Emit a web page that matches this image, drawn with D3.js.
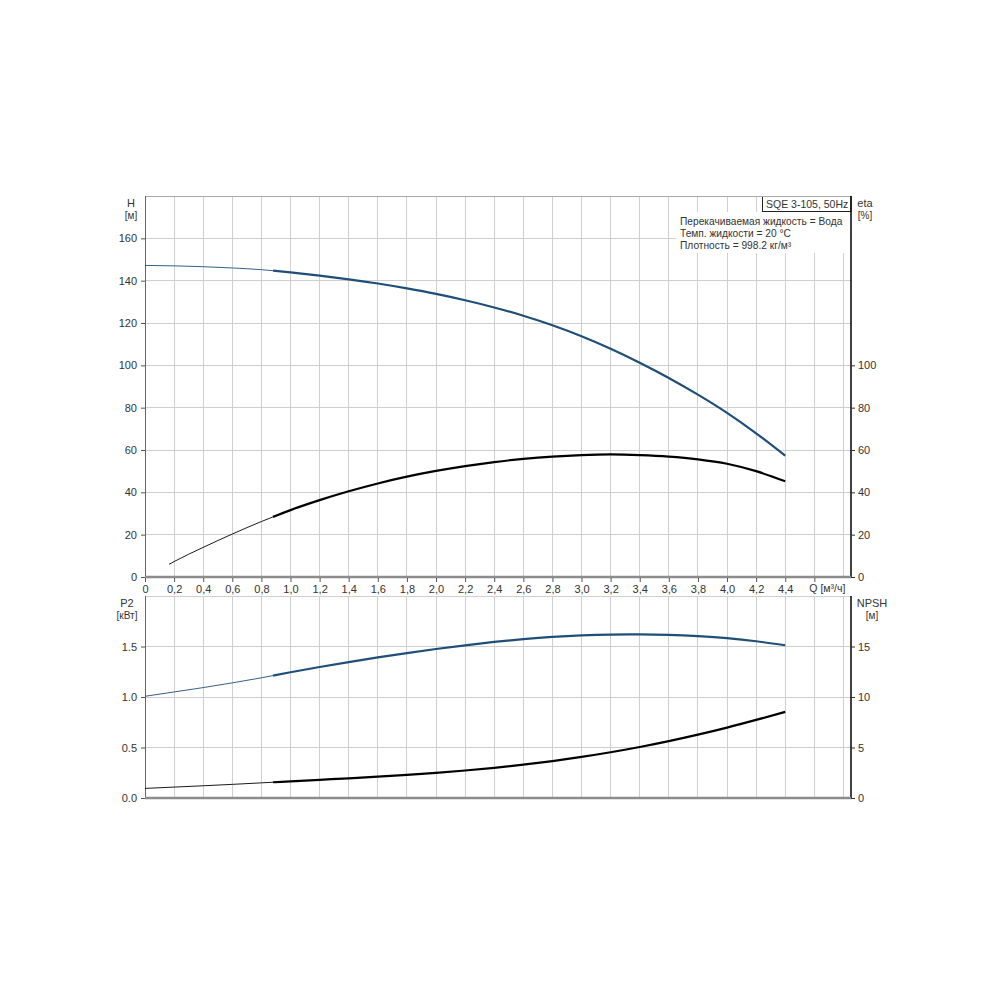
<!DOCTYPE html>
<html>
<head>
<meta charset="utf-8">
<script src="https://cdn.jsdelivr.net/npm/d3@7"></script>
<style>
  html, body { margin: 0; padding: 0; background: #fff; }
  svg { display: block; font-family: "Liberation Sans", Arial, sans-serif; }
</style>
</head>
<body>
<svg id="chart" width="1000" height="1000"></svg>
<script>
// ---- data ----
const qTicks = [0, 0.2, 0.4, 0.6, 0.8, 1.0, 1.2, 1.4, 1.6, 1.8, 2.0, 2.2, 2.4, 2.6, 2.8, 3.0, 3.2, 3.4, 3.6, 3.8, 4.0, 4.2, 4.4];
const qTickLabels = ["0", "0,2", "0,4", "0,6", "0,8", "1,0", "1,2", "1,4", "1,6", "1,8", "2,0", "2,2", "2,4", "2,6", "2,8", "3,0", "3,2", "3,4", "3,6", "3,8", "4,0", "4,2", "4,4"];
const qAxisLabel = "Q [м³/ч]";

const hTicks = [0, 20, 40, 60, 80, 100, 120, 140, 160];
const etaTicks = [0, 20, 40, 60, 80, 100];
const p2Ticks = [0.0, 0.5, 1.0, 1.5];
const p2TickLabels = ["0.0", "0.5", "1.0", "1.5"];
const npshTicks = [0, 5, 10, 15];

// Q points for H, P2, NPSH
const qPoints = [0, 0.2, 0.4, 0.6, 0.8, 0.88, 1.0, 1.2, 1.4, 1.6, 1.8, 2.0, 2.2, 2.4, 2.6, 2.8, 3.0, 3.2, 3.4, 3.6, 3.8, 4.0, 4.2, 4.4];
const hValues = [147.2, 147.0, 146.6, 146.0, 145.2, 144.7, 143.9, 142.4, 140.65, 138.65, 136.35, 133.75, 130.75, 127.35, 123.45, 118.95, 113.75, 107.85, 101.25, 94.05, 86.15, 77.55, 67.9, 57.3];
const p2Values = [1.007, 1.05, 1.093, 1.14, 1.19, 1.212, 1.245, 1.297, 1.346, 1.392, 1.435, 1.475, 1.512, 1.545, 1.573, 1.595, 1.610, 1.618, 1.620, 1.615, 1.602, 1.582, 1.552, 1.512];
const npshValues = [0.95, 1.08, 1.21, 1.35, 1.50, 1.56, 1.65, 1.80, 1.95, 2.11, 2.29, 2.49, 2.72, 2.99, 3.30, 3.66, 4.07, 4.53, 5.05, 5.63, 6.27, 6.97, 7.73, 8.53];

// Q points for efficiency
const qEta = [0.165, 0.2, 0.4, 0.6, 0.8, 0.88, 1.0, 1.2, 1.4, 1.6, 1.8, 2.0, 2.2, 2.4, 2.6, 2.8, 3.0, 3.2, 3.4, 3.6, 3.8, 4.0, 4.2, 4.4];
const etaValues = [6.0, 7.3, 14.0, 20.3, 26.2, 28.4, 31.6, 36.3, 40.5, 44.2, 47.4, 50.1, 52.4, 54.3, 55.8, 56.9, 57.6, 57.9, 57.6, 56.9, 55.6, 53.5, 50.0, 45.2];

const qThick = 0.88; // curves drawn thin below this flow

const titleBox = "SQE 3-105, 50Hz";
const infoLines = ["Перекачиваемая жидкость = Вода", "Темп. жидкости = 20 °C", "Плотность = 998.2 кг/м³"];

// ---- layout ----
const svg = d3.select("#chart");
const X0 = 145, X1 = 851;
const topY0 = 196, topY1 = 577;
const botY0 = 596, botY1 = 798;
const BLUE = "#1f4e79", GRID = "#cfcfcf", TXT = "#333";

const x = d3.scaleLinear().domain([0, 4.852]).range([X0, X1]);
const yH = d3.scaleLinear().domain([0, 180]).range([topY1, topY0]);
const yEta = d3.scaleLinear().domain([0, 180]).range([topY1, topY0]);
const yP2 = d3.scaleLinear().domain([0, 2]).range([botY1, botY0]);
const yNpsh = d3.scaleLinear().domain([0, 20]).range([botY1, botY0]);

const gridX = d3.range(0, 4.85, 0.2).map(v => +v.toFixed(1));

function panelGrid(yScale, yGridVals, y0, y1) {
  const g = svg.append("g");
  g.selectAll("line.v").data(gridX.slice(1)).join("line")
    .attr("x1", d => x(d)).attr("x2", d => x(d))
    .attr("y1", y0).attr("y2", y1)
    .attr("stroke", GRID).attr("stroke-width", 1).attr("shape-rendering", "crispEdges");
  g.selectAll("line.h").data(yGridVals).join("line")
    .attr("x1", X0).attr("x2", X1)
    .attr("y1", d => yScale(d)).attr("y2", d => yScale(d))
    .attr("stroke", GRID).attr("stroke-width", 1).attr("shape-rendering", "crispEdges");
  return g;
}

panelGrid(yH, [20, 40, 60, 80, 100, 120, 140, 160, 180], topY0, topY1);
panelGrid(yP2, [0.5, 1.0, 1.5, 2.0], botY0, botY1);

// info text white background (hides grid behind text)
svg.append("rect").attr("x", 676).attr("y", 212).attr("width", X1 - 676 - 1).attr("height", 41).attr("fill", "#fff");
// title box
svg.append("rect").attr("x", 762.5).attr("y", 196.5).attr("width", X1 - 762.5).attr("height", 15)
  .attr("fill", "#fff").attr("stroke", "#222").attr("stroke-width", 1);
svg.append("text").attr("x", 766).attr("y", 208).attr("font-size", 10.5).attr("fill", TXT).text(titleBox);
svg.selectAll("text.info").data(infoLines).join("text")
  .attr("x", 680).attr("y", (d, i) => 225 + i * 12)
  .attr("font-size", 10.2).attr("fill", TXT).text(d => d);

// ---- axes ----
function leftAxis(yScale, ticks, labels, y0, y1) {
  svg.append("line").attr("x1", X0).attr("x2", X0).attr("y1", y0).attr("y2", y1)
    .attr("stroke", "#666").attr("stroke-width", 1).attr("shape-rendering", "crispEdges");
  const ax = d3.axisLeft(yScale).tickValues(ticks).tickSize(4).tickPadding(4)
    .tickFormat((d, i) => labels ? labels[i] : d);
  const g = svg.append("g").attr("transform", `translate(${X0},0)`).call(ax);
  g.select(".domain").remove();
  g.selectAll("line").attr("stroke", "#555");
  g.selectAll("text").attr("font-size", 11).attr("fill", TXT).attr("font-family", "Liberation Sans, Arial, sans-serif");
}
function rightAxis(yScale, ticks, y0, y1) {
  svg.append("line").attr("x1", X1).attr("x2", X1).attr("y1", y0).attr("y2", y1)
    .attr("stroke", "#000").attr("stroke-width", 1.5);
  const ax = d3.axisRight(yScale).tickValues(ticks).tickSize(4).tickPadding(3);
  const g = svg.append("g").attr("transform", `translate(${X1},0)`).call(ax);
  g.select(".domain").remove();
  g.selectAll("line").attr("stroke", "#333");
  g.selectAll("text").attr("font-size", 11).attr("fill", TXT).attr("font-family", "Liberation Sans, Arial, sans-serif");
}
function bottomLine(yPos) {
  svg.append("line").attr("x1", X0).attr("x2", X1).attr("y1", yPos).attr("y2", yPos)
    .attr("stroke", "#8c8c8c").attr("stroke-width", 2.5);
}

// top panel
svg.append("line").attr("x1", X0).attr("x2", X1).attr("y1", topY0 + 0.5).attr("y2", topY0 + 0.5)
  .attr("stroke", "#aaa").attr("stroke-width", 1);
leftAxis(yH, hTicks, null, topY0, topY1);
rightAxis(yEta, etaTicks, topY0, topY1);
bottomLine(topY1);

// x axis with labels between panels
const xa = d3.axisBottom(x).tickValues(qTicks.concat([4.6])).tickSize(4).tickPadding(3)
  .tickFormat((d, i) => i < qTickLabels.length ? qTickLabels[i] : "");
const xg = svg.append("g").attr("transform", `translate(0,${topY1 + 1})`).call(xa);
xg.select(".domain").remove();
xg.selectAll("line").attr("stroke", "#555");
xg.selectAll("text").attr("font-size", 11).attr("fill", TXT).attr("font-family", "Liberation Sans, Arial, sans-serif");
svg.append("text").attr("x", x(4.6) - 5).attr("y", topY1 + 15).attr("font-size", 10.5).attr("fill", TXT).text(qAxisLabel);

// bottom panel
leftAxis(yP2, p2Ticks, p2TickLabels, botY0, botY1);
rightAxis(yNpsh, npshTicks, botY0, botY1);
bottomLine(botY1);

// axis titles
function twoLine(cx, y, a, b, anchor) {
  svg.append("text").attr("x", cx).attr("y", y).attr("text-anchor", anchor).attr("font-size", 11).attr("fill", TXT).text(a);
  svg.append("text").attr("x", cx).attr("y", y + 12).attr("text-anchor", anchor).attr("font-size", 10).attr("fill", TXT).text(b);
}
twoLine(131, 207, "H", "[м]", "middle");
twoLine(865, 207, "eta", "[%]", "middle");
twoLine(127, 607, "P2", "[кВт]", "middle");
twoLine(872, 607, "NPSH", "[м]", "middle");

// ---- curves ----
function drawCurve(qs, vals, yScale, color) {
  const pts = qs.map((q, i) => ({ q, v: vals[i] }));
  const line = d3.line().x(d => x(d.q)).y(d => yScale(d.v)).curve(d3.curveMonotoneX);
  const thin = pts.filter(d => d.q <= qThick);
  const thick = pts.filter(d => d.q >= qThick);
  svg.append("path").attr("d", line(thin)).attr("fill", "none").attr("stroke", color).attr("stroke-width", 0.9);
  svg.append("path").attr("d", line(thick)).attr("fill", "none").attr("stroke", color).attr("stroke-width", 2.2);
}
drawCurve(qPoints, hValues, yH, BLUE);
drawCurve(qEta, etaValues, yEta, "#000");
drawCurve(qPoints, p2Values, yP2, BLUE);
drawCurve(qPoints, npshValues, yNpsh, "#000");
</script>
</body>
</html>
